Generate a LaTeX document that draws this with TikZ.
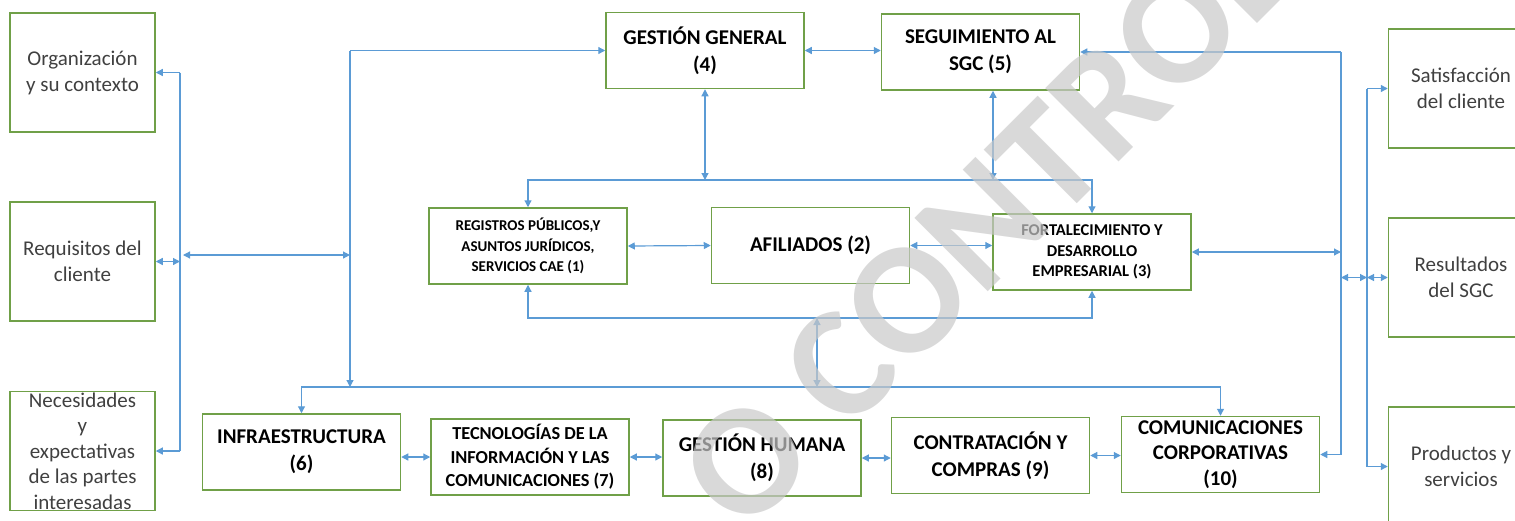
\documentclass[tikz,border=0pt]{standalone}
\usepackage{fontspec}
\setmainfont{Carlito}
\usetikzlibrary{arrows.meta}
\definecolor{boxgreen}{RGB}{112,160,72}
\definecolor{linkblue}{RGB}{91,155,213}
\definecolor{sidetext}{RGB}{64,64,64}
\begin{document}
\begin{tikzpicture}[x=1pt,y=-1pt,
    proc/.style={draw=boxgreen,line width=1.5pt,align=center,inner sep=1pt,
      minimum width=198pt,minimum height=76pt,font=\bfseries\fontsize{21}{27}\selectfont},
    procsm/.style={proc,font=\bfseries\fontsize{16}{20.5}\selectfont},
    side/.style={draw=boxgreen,line width=1.5pt,align=center,inner sep=1pt,
      minimum width=145pt,minimum height=119pt,text=sidetext,font=\fontsize{21}{26}\selectfont},
    sidetxt/.style={align=center,inner sep=0pt,text=sidetext,font=\fontsize{21}{25.5}\selectfont},
    link/.style={draw=linkblue,line width=1.2pt},
    arr/.style={link,-{Triangle[length=7pt,width=7pt]}},
    arrs/.style={link,{Triangle[length=7pt,width=7pt]}-{Triangle[length=7pt,width=7pt]}}]
  \useasboundingbox (0,0) rectangle (1515,520);
  % inputs and outputs
  \node[side] (org)  at (82.5,72.5)  {Organización\\y su contexto};
  \node[side] (req)  at (82.5,261.5) {Requisitos del\\cliente};
  \node[side] (nec)  at (82.5,451)   {};
  \node[sidetxt] (nectxt) at (nec) {Necesidades\\y\\expectativas\\de las partes\\interesadas};
  \node[side] (sat)  at (1461,88.5)  {Satisfacción\\del cliente};
  \node[side] (res)  at (1461,277.5) {Resultados\\del SGC};
  \node[side] (prod) at (1461,466.5) {Productos y\\servicios};
  % processes
  \node[proc] (gg)  at (705,50.5)  {GESTIÓN GENERAL\\(4)};
  \node[proc] (seg) at (980.5,52)  {SEGUIMIENTO AL\\SGC (5)};
  \node[procsm,font=\bfseries\fontsize{15}{20.5}\selectfont] (reg) at (528,246)
    {REGISTROS PÚBLICOS,Y\\ASUNTOS JURÍDICOS,\\SERVICIOS CAE (1)};
  \node[proc] (afi) at (810.5,245.5) {AFILIADOS (2)};
  \node[procsm,font=\bfseries\fontsize{16.5}{20.5}\selectfont] (fde) at (1092,252)
    {FORTALECIMIENTO Y\\DESARROLLO\\EMPRESARIAL (3)};
  \node[proc] (inf) at (301.5,452) {INFRAESTRUCTURA\\(6)};
  \node[procsm,font=\bfseries\fontsize{18.3}{23.5}\selectfont] (tic) at (530,457)
    {TECNOLOGÍAS DE LA\\INFORMACIÓN Y LAS\\COMUNICACIONES (7)};
  \node[proc] (gh)  at (762,458)   {GESTIÓN HUMANA\\(8)};
  \node[proc] (cc)  at (990.5,455.5) {CONTRATACIÓN Y\\COMPRAS (9)};
  \node[proc,font=\bfseries\fontsize{21}{25.5}\selectfont] (com) at (1220.5,454.5)
    {COMUNICACIONES\\CORPORATIVAS\\(10)};
  % bus points
  \coordinate (lt) at (180,72.5);
  \coordinate (lb) at (180,451);
  \coordinate (lj) at (183,255);
  \coordinate (vj) at (350,255);
  \coordinate (vt) at (350,50.5);
  \coordinate (vb) at (350,387);
  \coordinate (ub) at (705,180);
  \coordinate (us) at (993,180);
  \coordinate (mt) at (817,318);
  \coordinate (mb) at (817,387);
  \coordinate (rt) at (1341,52);
  \coordinate (rm) at (1341,277.5);
  \coordinate (rb) at (1341,454.5);
  \coordinate (st) at (1367,88.5);
  \coordinate (sm) at (1367,277.5);
  \coordinate (sb) at (1367,466.5);
  % left side
  \draw[link] (lt) -- (lb);
  \draw[arr] (lt) -- (org.east);
  \draw[arr] (lb) -- (nec.east);
  \draw[arrs] (req.east) -- (req.east -| lt);
  \draw[arrs] (lj) -- (vj);
  \draw[arr] (vt) -- (gg.west);
  \draw[arr] (vt) -- (vb);
  \draw[arr] (vb) -| (inf.north);
  \draw[arr] (vb) -| (com.north);
  % top
  \draw[arrs] (gg.east) -- (gg.east -| seg.west);
  \draw[arrs] (gg.south) -- (ub);
  \draw[arrs] (us |- seg.south) -- (us);
  \draw[arr] (ub) -| (reg.north);
  \draw[arr] (ub) -| (fde.north);
  % middle
  \draw[arrs] (reg.east) -- (afi.west);
  \draw[arrs] (afi.east) -- (afi.east -| fde.west);
  \draw[arrs] (mt) -- (mb);
  \draw[arr] (mt) -| (reg.south);
  \draw[arr] (mt) -| (fde.south);
  % bottom row
  \draw[arrs] (tic.west -| inf.east) -- (tic.west);
  \draw[arrs] (tic.east) -- (tic.east -| gh.west);
  \draw[arrs] (gh.east) -- (gh.east -| cc.west);
  \draw[arrs] (cc.east) -- (cc.east -| com.west);
  % right side
  \draw[link] (rt) -- (rb);
  \draw[arr] (rt) -- (seg.east);
  \draw[arr] (rb) -- (com.east);
  \draw[arrs] (fde.east) -- (fde.east -| rt);
  \draw[link] (st) -- (sb);
  \draw[arr] (st) -- (sat.west);
  \draw[arr] (sb) -- (prod.west);
  \draw[arrs] (rm) -- (sm);
  \draw[arrs] (sm) -- (res.west);
  % watermark
  \node[rotate=45,inner sep=0pt,text=black!21,text opacity=0.7,
    font=\bfseries\fontsize{160}{160}\selectfont] (wm) at (985,222) {O CONTROL};
\end{tikzpicture}
\end{document}
